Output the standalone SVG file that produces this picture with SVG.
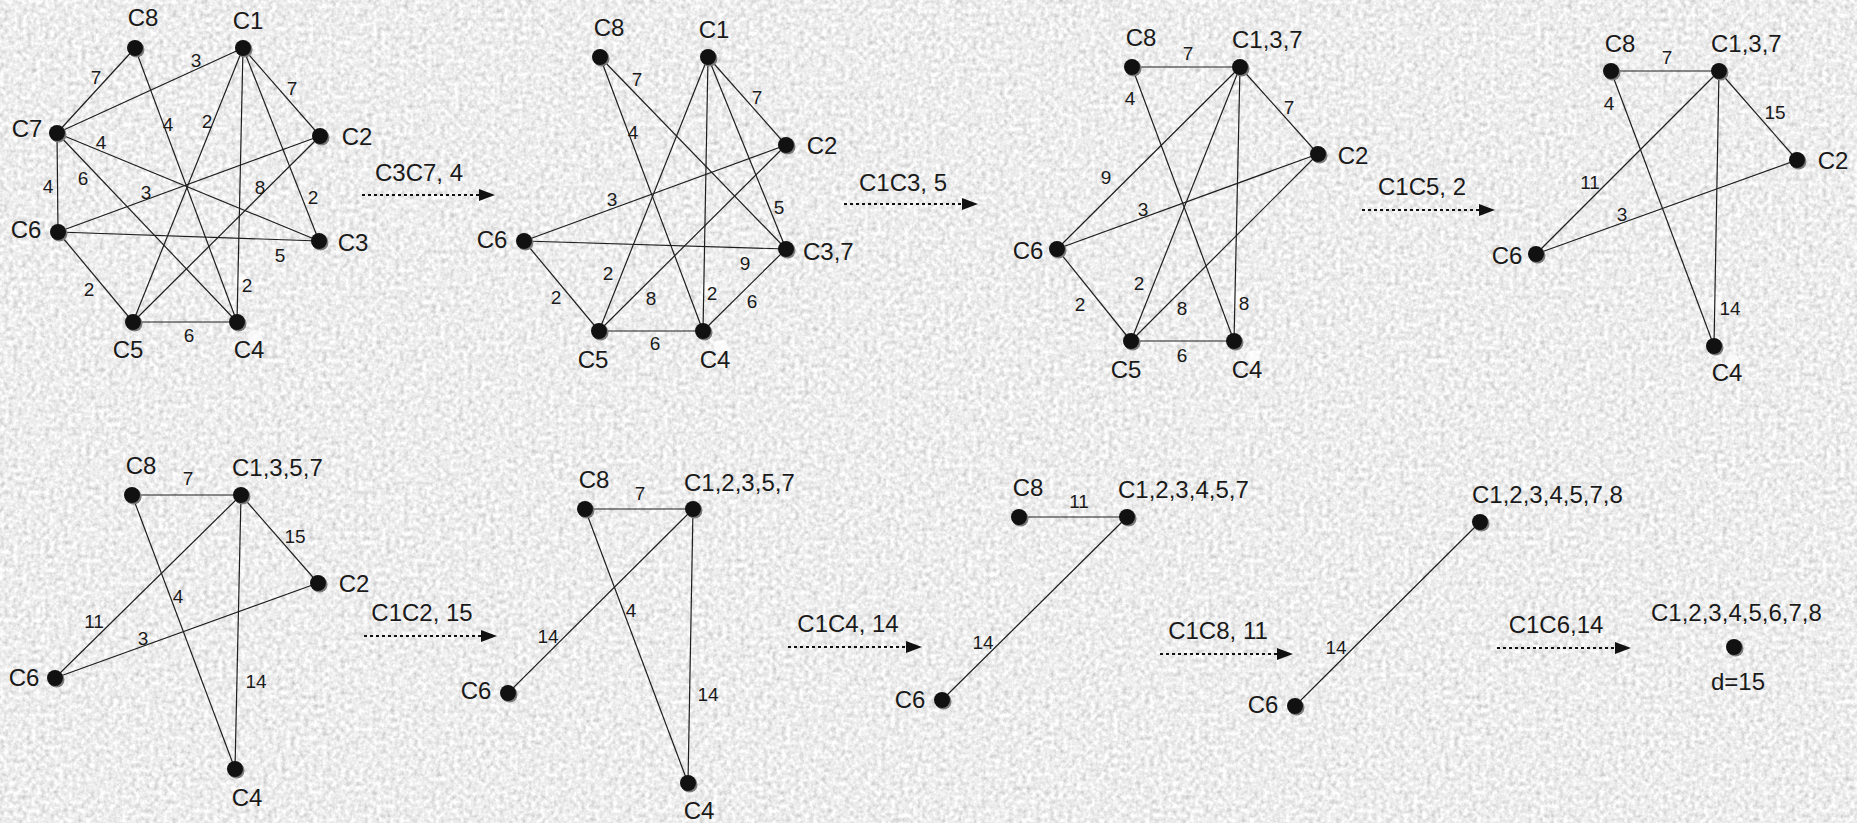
<svg xmlns="http://www.w3.org/2000/svg" xmlns:xlink="http://www.w3.org/1999/xlink" width="1857" height="823" viewBox="0 0 1857 823">
  <defs>
    <!-- granite-like grey backdrop -->
    <filter id="grain" x="0" y="0" width="100%" height="100%" filterUnits="userSpaceOnUse">
      <feTurbulence type="fractalNoise" baseFrequency="0.22" numOctaves="3" seed="7" result="t"/>
      <feColorMatrix in="t" type="saturate" values="0" result="g"/>
      <feComponentTransfer in="g">
        <feFuncR type="linear" slope="0.9" intercept="0.4"/>
        <feFuncG type="linear" slope="0.9" intercept="0.4"/>
        <feFuncB type="linear" slope="0.9" intercept="0.4"/>
        <feFuncA type="linear" slope="0" intercept="1"/>
      </feComponentTransfer>
    </filter>
    <!-- vertex dot with a soft offset shadow -->
    <g id="dot">
      <circle cx="1.5" cy="1.5" r="8" fill="#7a7a7a"/>
      <circle cx="0" cy="0" r="8" fill="#111"/>
    </g>
    <marker id="head" viewBox="0 0 16 12" refX="0" refY="6" markerWidth="16" markerHeight="12" markerUnits="userSpaceOnUse" orient="auto">
      <path d="M0,0 L16,6 L0,12 Z" fill="#111"/>
    </marker>
    <style>
      .e { stroke:#1e1e1e; stroke-width:1.2; fill:none; }
      .t { font-family:"Liberation Sans", Arial, sans-serif; font-size:24px; fill:#1a1a1a; }
      .m { text-anchor:middle; }
      .w { font-family:"Liberation Sans", Arial, sans-serif; font-size:19px; fill:#1a1a1a; text-anchor:middle; }
      .step { stroke:#111; stroke-width:2; stroke-dasharray:3 3; fill:none; }
      .spot { fill:#fff; opacity:0.75; }
    </style>
  </defs>

  <rect x="0" y="0" width="1857" height="823" fill="#d6d6d6"/>
  <rect x="0" y="0" width="1857" height="823" filter="url(#grain)"/>

  <!-- light spots near the lower-right vertices of the top row -->
  <g id="spots">
    <circle class="spot" cx="240" cy="280" r="7"/>
    <circle class="spot" cx="255" cy="337" r="7"/>
    <circle class="spot" cx="707" cy="289" r="7"/>
    <circle class="spot" cx="721" cy="347" r="7"/>
    <circle class="spot" cx="1237" cy="298" r="7"/>
    <circle class="spot" cx="1253" cy="357" r="7"/>
    <circle class="spot" cx="1715" cy="303" r="7"/>
    <circle class="spot" cx="1732" cy="361" r="7"/>
  </g>

  <!-- ===== edges ===== -->
  <g id="connectors">
    <!-- graph 1 -->
    <g id="g1-edges">
      <line class="e" x1="135" y1="48" x2="57" y2="133"/>
      <line class="e" x1="135" y1="48" x2="237" y2="322"/>
      <line class="e" x1="243" y1="48" x2="57" y2="133"/>
      <line class="e" x1="243" y1="48" x2="133" y2="322"/>
      <line class="e" x1="243" y1="48" x2="237" y2="322"/>
      <line class="e" x1="243" y1="48" x2="320" y2="136"/>
      <line class="e" x1="243" y1="48" x2="319" y2="241"/>
      <line class="e" x1="57" y1="133" x2="319" y2="241"/>
      <line class="e" x1="57" y1="133" x2="237" y2="322"/>
      <line class="e" x1="57" y1="133" x2="58" y2="232"/>
      <line class="e" x1="58" y1="232" x2="320" y2="136"/>
      <line class="e" x1="133" y1="322" x2="320" y2="136"/>
      <line class="e" x1="58" y1="232" x2="319" y2="241"/>
      <line class="e" x1="58" y1="232" x2="133" y2="322"/>
      <line class="e" x1="133" y1="322" x2="237" y2="322"/>
    </g>
    <g id="g1-weights">
      <text class="w" x="196" y="67">3</text>
      <text class="w" x="96" y="84">7</text>
      <text class="w" x="292" y="95">7</text>
      <text class="w" x="168" y="131">4</text>
      <text class="w" x="207" y="128">2</text>
      <text class="w" x="101" y="149">4</text>
      <text class="w" x="48" y="193">4</text>
      <text class="w" x="83" y="185">6</text>
      <text class="w" x="146" y="199">3</text>
      <text class="w" x="260" y="194">8</text>
      <text class="w" x="313" y="204">2</text>
      <text class="w" x="280" y="262">5</text>
      <text class="w" x="89" y="296">2</text>
      <text class="w" x="247" y="292">2</text>
      <text class="w" x="189" y="342">6</text>
    </g>

    <!-- graph 2 -->
    <g id="g2-edges">
      <line class="e" x1="600" y1="57" x2="786" y2="249"/>
      <line class="e" x1="600" y1="57" x2="703" y2="331"/>
      <line class="e" x1="708" y1="57" x2="786" y2="145"/>
      <line class="e" x1="708" y1="57" x2="599" y2="331"/>
      <line class="e" x1="708" y1="57" x2="703" y2="331"/>
      <line class="e" x1="708" y1="57" x2="786" y2="249"/>
      <line class="e" x1="524" y1="241" x2="786" y2="145"/>
      <line class="e" x1="524" y1="241" x2="786" y2="249"/>
      <line class="e" x1="524" y1="241" x2="599" y2="331"/>
      <line class="e" x1="786" y1="145" x2="599" y2="331"/>
      <line class="e" x1="599" y1="331" x2="703" y2="331"/>
      <line class="e" x1="703" y1="331" x2="786" y2="249"/>
    </g>
    <g id="g2-weights">
      <text class="w" x="637" y="86">7</text>
      <text class="w" x="633" y="139">4</text>
      <text class="w" x="757" y="104">7</text>
      <text class="w" x="608" y="280">2</text>
      <text class="w" x="712" y="300">2</text>
      <text class="w" x="779" y="214">5</text>
      <text class="w" x="612" y="206">3</text>
      <text class="w" x="745" y="270">9</text>
      <text class="w" x="556" y="304">2</text>
      <text class="w" x="651" y="305">8</text>
      <text class="w" x="655" y="350">6</text>
      <text class="w" x="752" y="308">6</text>
    </g>

    <!-- graph 3 -->
    <g id="g3-edges">
      <line class="e" x1="1132" y1="67" x2="1240" y2="67"/>
      <line class="e" x1="1132" y1="67" x2="1234" y2="341"/>
      <line class="e" x1="1240" y1="67" x2="1318" y2="154"/>
      <line class="e" x1="1240" y1="67" x2="1057" y2="249"/>
      <line class="e" x1="1240" y1="67" x2="1131" y2="341"/>
      <line class="e" x1="1240" y1="67" x2="1234" y2="341"/>
      <line class="e" x1="1057" y1="249" x2="1318" y2="154"/>
      <line class="e" x1="1318" y1="154" x2="1131" y2="341"/>
      <line class="e" x1="1057" y1="249" x2="1131" y2="341"/>
      <line class="e" x1="1131" y1="341" x2="1234" y2="341"/>
    </g>
    <g id="g3-weights">
      <text class="w" x="1188" y="60">7</text>
      <text class="w" x="1130" y="105">4</text>
      <text class="w" x="1289" y="114">7</text>
      <text class="w" x="1106" y="184">9</text>
      <text class="w" x="1143" y="216">3</text>
      <text class="w" x="1139" y="290">2</text>
      <text class="w" x="1244" y="310">8</text>
      <text class="w" x="1182" y="315">8</text>
      <text class="w" x="1080" y="311">2</text>
      <text class="w" x="1182" y="362">6</text>
    </g>

    <!-- graph 4 -->
    <g id="g4-edges">
      <line class="e" x1="1611" y1="71" x2="1719" y2="71"/>
      <line class="e" x1="1611" y1="71" x2="1714" y2="346"/>
      <line class="e" x1="1719" y1="71" x2="1797" y2="160"/>
      <line class="e" x1="1719" y1="71" x2="1536" y2="254"/>
      <line class="e" x1="1536" y1="254" x2="1797" y2="160"/>
      <line class="e" x1="1719" y1="71" x2="1714" y2="346"/>
    </g>
    <g id="g4-weights">
      <text class="w" x="1667" y="64">7</text>
      <text class="w" x="1609" y="110">4</text>
      <text class="w" x="1775" y="119">15</text>
      <text class="w" x="1590" y="189">11</text>
      <text class="w" x="1622" y="221">3</text>
      <text class="w" x="1730" y="315">14</text>
    </g>

    <!-- graph 5 -->
    <g id="g5-edges">
      <line class="e" x1="132" y1="495" x2="241" y2="495"/>
      <line class="e" x1="132" y1="495" x2="235" y2="769"/>
      <line class="e" x1="241" y1="495" x2="318" y2="583"/>
      <line class="e" x1="241" y1="495" x2="55" y2="678"/>
      <line class="e" x1="55" y1="678" x2="318" y2="583"/>
      <line class="e" x1="241" y1="495" x2="235" y2="769"/>
    </g>
    <g id="g5-weights">
      <text class="w" x="188" y="485">7</text>
      <text class="w" x="178" y="603">4</text>
      <text class="w" x="295" y="543">15</text>
      <text class="w" x="94" y="628">11</text>
      <text class="w" x="143" y="645">3</text>
      <text class="w" x="256" y="688">14</text>
    </g>

    <!-- graph 6 -->
    <g id="g6-edges">
      <line class="e" x1="585" y1="509" x2="693" y2="509"/>
      <line class="e" x1="585" y1="509" x2="688" y2="783"/>
      <line class="e" x1="693" y1="509" x2="508" y2="693"/>
      <line class="e" x1="693" y1="509" x2="688" y2="783"/>
    </g>
    <g id="g6-weights">
      <text class="w" x="640" y="500">7</text>
      <text class="w" x="631" y="617">4</text>
      <text class="w" x="548" y="643">14</text>
      <text class="w" x="708" y="701">14</text>
    </g>

    <!-- graph 7 -->
    <g id="g7-edges">
      <line class="e" x1="1019" y1="517" x2="1127" y2="517"/>
      <line class="e" x1="1127" y1="517" x2="942" y2="700"/>
    </g>
    <g id="g7-weights">
      <text class="w" x="1079" y="508">11</text>
      <text class="w" x="983" y="649">14</text>
    </g>

    <!-- graph 8 -->
    <g id="g8-edges">
      <line class="e" x1="1480" y1="522" x2="1295" y2="706"/>
    </g>
    <g id="g8-weights">
      <text class="w" x="1336" y="654">14</text>
    </g>

    <!-- merge steps between graphs -->
    <g id="steps">
      <line class="step" x1="362" y1="195" x2="479" y2="195" marker-end="url(#head)"/>
      <text class="t m" x="419" y="181">C3C7, 4</text>
      <line class="step" x1="844" y1="204" x2="962" y2="204" marker-end="url(#head)"/>
      <text class="t m" x="903" y="191">C1C3, 5</text>
      <line class="step" x1="1362" y1="210" x2="1479" y2="210" marker-end="url(#head)"/>
      <text class="t m" x="1422" y="195">C1C5, 2</text>
      <line class="step" x1="364" y1="636" x2="481" y2="636" marker-end="url(#head)"/>
      <text class="t m" x="422" y="621">C1C2, 15</text>
      <line class="step" x1="788" y1="647" x2="906" y2="647" marker-end="url(#head)"/>
      <text class="t m" x="848" y="632">C1C4, 14</text>
      <line class="step" x1="1160" y1="654" x2="1277" y2="654" marker-end="url(#head)"/>
      <text class="t m" x="1218" y="639">C1C8, 11</text>
      <line class="step" x1="1497" y1="648" x2="1615" y2="648" marker-end="url(#head)"/>
      <text class="t m" x="1556" y="633">C1C6,14</text>
    </g>
  </g>

  <!-- ===== graph 1 nodes ===== -->
  <g id="g1-c8"><use xlink:href="#dot" href="#dot" x="135" y="48"/><text class="t m" x="143" y="26">C8</text></g>
  <g id="g1-c1"><use xlink:href="#dot" href="#dot" x="243" y="48"/><text class="t m" x="248" y="29">C1</text></g>
  <g id="g1-c7"><use xlink:href="#dot" href="#dot" x="57" y="133"/><text class="t m" x="27" y="137">C7</text></g>
  <g id="g1-c2"><use xlink:href="#dot" href="#dot" x="320" y="136"/><text class="t m" x="357" y="145">C2</text></g>
  <g id="g1-c6"><use xlink:href="#dot" href="#dot" x="58" y="232"/><text class="t m" x="26" y="238">C6</text></g>
  <g id="g1-c3"><use xlink:href="#dot" href="#dot" x="319" y="241"/><text class="t m" x="353" y="251">C3</text></g>
  <g id="g1-c5"><use xlink:href="#dot" href="#dot" x="133" y="322"/><text class="t m" x="128" y="358">C5</text></g>
  <g id="g1-c4"><use xlink:href="#dot" href="#dot" x="237" y="322"/><text class="t m" x="249" y="358">C4</text></g>

  <!-- ===== graph 2 nodes ===== -->
  <g id="g2-c8"><use xlink:href="#dot" href="#dot" x="600" y="57"/><text class="t m" x="609" y="36">C8</text></g>
  <g id="g2-c1"><use xlink:href="#dot" href="#dot" x="708" y="57"/><text class="t m" x="714" y="38">C1</text></g>
  <g id="g2-c2"><use xlink:href="#dot" href="#dot" x="786" y="145"/><text class="t m" x="822" y="154">C2</text></g>
  <g id="g2-c6"><use xlink:href="#dot" href="#dot" x="524" y="241"/><text class="t m" x="492" y="248">C6</text></g>
  <g id="g2-c37"><use xlink:href="#dot" href="#dot" x="786" y="249"/><text class="t" x="803" y="260">C3,7</text></g>
  <g id="g2-c5"><use xlink:href="#dot" href="#dot" x="599" y="331"/><text class="t m" x="593" y="368">C5</text></g>
  <g id="g2-c4"><use xlink:href="#dot" href="#dot" x="703" y="331"/><text class="t m" x="715" y="368">C4</text></g>

  <!-- ===== graph 3 nodes ===== -->
  <g id="g3-c8"><use xlink:href="#dot" href="#dot" x="1132" y="67"/><text class="t m" x="1141" y="46">C8</text></g>
  <g id="g3-c137"><use xlink:href="#dot" href="#dot" x="1240" y="67"/><text class="t" x="1232" y="48">C1,3,7</text></g>
  <g id="g3-c2"><use xlink:href="#dot" href="#dot" x="1318" y="154"/><text class="t m" x="1353" y="164">C2</text></g>
  <g id="g3-c6"><use xlink:href="#dot" href="#dot" x="1057" y="249"/><text class="t m" x="1028" y="259">C6</text></g>
  <g id="g3-c5"><use xlink:href="#dot" href="#dot" x="1131" y="341"/><text class="t m" x="1126" y="378">C5</text></g>
  <g id="g3-c4"><use xlink:href="#dot" href="#dot" x="1234" y="341"/><text class="t m" x="1247" y="378">C4</text></g>

  <!-- ===== graph 4 nodes ===== -->
  <g id="g4-c8"><use xlink:href="#dot" href="#dot" x="1611" y="71"/><text class="t m" x="1620" y="52">C8</text></g>
  <g id="g4-c137"><use xlink:href="#dot" href="#dot" x="1719" y="71"/><text class="t" x="1711" y="52">C1,3,7</text></g>
  <g id="g4-c2"><use xlink:href="#dot" href="#dot" x="1797" y="160"/><text class="t m" x="1833" y="169">C2</text></g>
  <g id="g4-c6"><use xlink:href="#dot" href="#dot" x="1536" y="254"/><text class="t m" x="1507" y="264">C6</text></g>
  <g id="g4-c4"><use xlink:href="#dot" href="#dot" x="1714" y="346"/><text class="t m" x="1727" y="381">C4</text></g>

  <!-- ===== graph 5 nodes ===== -->
  <g id="g5-c8"><use xlink:href="#dot" href="#dot" x="132" y="495"/><text class="t m" x="141" y="474">C8</text></g>
  <g id="g5-c1357"><use xlink:href="#dot" href="#dot" x="241" y="495"/><text class="t" x="232" y="476">C1,3,5,7</text></g>
  <g id="g5-c2"><use xlink:href="#dot" href="#dot" x="318" y="583"/><text class="t m" x="354" y="592">C2</text></g>
  <g id="g5-c6"><use xlink:href="#dot" href="#dot" x="55" y="678"/><text class="t m" x="24" y="686">C6</text></g>
  <g id="g5-c4"><use xlink:href="#dot" href="#dot" x="235" y="769"/><text class="t m" x="247" y="806">C4</text></g>

  <!-- ===== graph 6 nodes ===== -->
  <g id="g6-c8"><use xlink:href="#dot" href="#dot" x="585" y="509"/><text class="t m" x="594" y="488">C8</text></g>
  <g id="g6-c12357"><use xlink:href="#dot" href="#dot" x="693" y="509"/><text class="t" x="684" y="491">C1,2,3,5,7</text></g>
  <g id="g6-c6"><use xlink:href="#dot" href="#dot" x="508" y="693"/><text class="t m" x="476" y="699">C6</text></g>
  <g id="g6-c4"><use xlink:href="#dot" href="#dot" x="688" y="783"/><text class="t m" x="699" y="819">C4</text></g>

  <!-- ===== graph 7 nodes ===== -->
  <g id="g7-c8"><use xlink:href="#dot" href="#dot" x="1019" y="517"/><text class="t m" x="1028" y="496">C8</text></g>
  <g id="g7-c123457"><use xlink:href="#dot" href="#dot" x="1127" y="517"/><text class="t" x="1118" y="498">C1,2,3,4,5,7</text></g>
  <g id="g7-c6"><use xlink:href="#dot" href="#dot" x="942" y="700"/><text class="t m" x="910" y="708">C6</text></g>

  <!-- ===== graph 8 nodes ===== -->
  <g id="g8-c1234578"><use xlink:href="#dot" href="#dot" x="1480" y="522"/><text class="t" x="1472" y="503">C1,2,3,4,5,7,8</text></g>
  <g id="g8-c6"><use xlink:href="#dot" href="#dot" x="1295" y="706"/><text class="t m" x="1263" y="713">C6</text></g>

  <!-- ===== final single cluster ===== -->
  <g id="final">
    <use xlink:href="#dot" href="#dot" x="1734" y="647"/>
    <text class="t" x="1651" y="621">C1,2,3,4,5,6,7,8</text>
    <text class="t m" x="1738" y="690">d=15</text>
  </g>
</svg>
